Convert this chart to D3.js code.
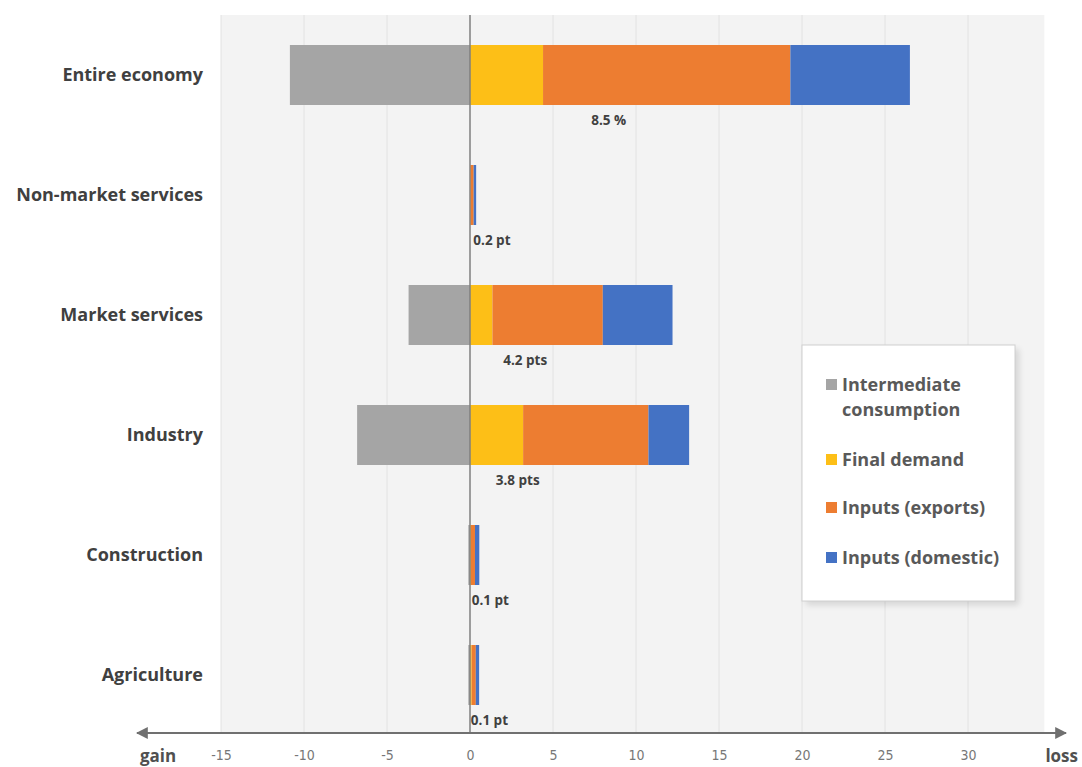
<!DOCTYPE html>
<html lang="en">
<head>
<meta charset="UTF-8">
<title>Gains and losses by sector</title>
<script src="https://d3js.org/d3.v7.min.js"></script>
<style>
  body { margin: 0; background: #fff; }
  .cat { font-family: "Open Sans", "DejaVu Sans", sans-serif; font-weight: 700; font-size: 18px; fill: #404040; }
  .tick text { font-family: "Liberation Sans Narrow", "DejaVu Sans Condensed", sans-serif; font-size: 14px; fill: #777; }
  .note { font-family: "Open Sans", sans-serif; font-weight: 700; font-size: 13.5px; fill: #404040; }
  .end { font-family: "Open Sans", sans-serif; font-weight: 700; font-size: 17px; fill: #505050; }
  .leg { font-family: "Open Sans", sans-serif; font-weight: 700; font-size: 18px; fill: #595959; }
</style>
</head>
<body>
<svg id="chart" width="1082" height="767"></svg>
<script>
// data
var sectors = ["Entire economy", "Non-market services", "Market services", "Industry", "Construction", "Agriculture"];
var seriesNames = ["Intermediate consumption", "Final demand", "Inputs (exports)", "Inputs (domestic)"];
var intermediate = [-10.85, 0, -3.7, -6.8, -0.1, -0.1];
var finalDemand = [4.4, 0.02, 1.35, 3.2, 0.05, 0.1];
var inputsExports = [14.9, 0.2, 6.65, 7.55, 0.25, 0.25];
var inputsDomestic = [7.2, 0.15, 4.2, 2.45, 0.26, 0.2];
var notes = ["8.5 %", "0.2 pt", "4.2 pts", "3.8 pts", "0.1 pt", "0.1 pt"];
var noteAt = [7.3, 0.2, 2.0, 1.55, 0.1, 0.05];
var ticks = [-15, -10, -5, 0, 5, 10, 15, 20, 25, 30];
var colors = ["#a5a5a5", "#fdbf17", "#ed7d31", "#4472c4"];

var svg = d3.select("#chart");

var x = d3.scaleLinear().domain([-15, 30]).range([221, 968]);
var y = d3.scaleBand().domain(sectors).range([15, 735]).paddingInner(0.5).paddingOuter(0.25);

var rows = sectors.map(function (s, i) {
    return { sector: s, s0: intermediate[i], s1: finalDemand[i], s2: inputsExports[i], s3: inputsDomestic[i] };
});
var stack = d3.stack().keys(["s0", "s1", "s2", "s3"]).offset(d3.stackOffsetDiverging);
var layers = stack(rows);

// plot background
svg.append("rect")
    .attr("x", x(-15)).attr("y", 15)
    .attr("width", x(34.6) - x(-15)).attr("height", 733 - 15)
    .attr("fill", "#f3f3f3");

svg.append("g").selectAll("line")
    .data(ticks.filter(function (t) { return t !== 0; }))
    .join("line")
    .attr("x1", function (d) { return x(d); }).attr("x2", function (d) { return x(d); })
    .attr("y1", 15).attr("y2", 733)
    .attr("stroke", "#e2e2e2").attr("stroke-width", 1);

// bars
svg.append("g").selectAll("g")
    .data(layers)
    .join("g")
    .attr("fill", function (d, i) { return colors[i]; })
    .selectAll("rect")
    .data(function (d) { return d; })
    .join("rect")
    .attr("x", function (d) { return x(Math.min(d[0], d[1])); })
    .attr("width", function (d) { return Math.abs(x(d[1]) - x(d[0])); })
    .attr("y", function (d) { return y(d.data.sector); })
    .attr("height", y.bandwidth());

// zero line
svg.append("line")
    .attr("x1", x(0)).attr("x2", x(0))
    .attr("y1", 15).attr("y2", 733)
    .attr("stroke", "#7f7f7f").attr("stroke-width", 1.5);

// category labels
svg.append("g").selectAll("text")
    .data(sectors)
    .join("text")
    .attr("class", "cat")
    .attr("x", 203)
    .attr("y", function (d) { return y(d) + y.bandwidth() / 2; })
    .attr("dy", "0.35em")
    .attr("text-anchor", "end")
    .text(function (d) { return d; });

// notes under bars
svg.append("g").selectAll("text")
    .data(notes)
    .join("text")
    .attr("class", "note")
    .attr("x", function (d, i) { return x(noteAt[i]); })
    .attr("y", function (d, i) { return y(sectors[i]) + y.bandwidth() + 20; })
    .text(function (d) { return d; });

// bottom axis with arrows
var defs = svg.append("defs");
["arrEnd", "arrStart"].forEach(function (id, k) {
    defs.append("marker")
        .attr("id", id)
        .attr("viewBox", "0 0 10 10")
        .attr("refX", k === 0 ? 9 : 1).attr("refY", 5)
        .attr("markerWidth", 6).attr("markerHeight", 6)
        .attr("orient", "auto")
        .append("path")
        .attr("d", k === 0 ? "M0,0L10,5L0,10Z" : "M10,0L0,5L10,10Z")
        .attr("fill", "#707070");
});
svg.append("line")
    .attr("x1", 137).attr("x2", 1066)
    .attr("y1", 733).attr("y2", 733)
    .attr("stroke", "#707070").attr("stroke-width", 2)
    .attr("marker-start", "url(#arrStart)")
    .attr("marker-end", "url(#arrEnd)");

var axis = svg.append("g")
    .attr("transform", "translate(0,746)")
    .call(d3.axisBottom(x).tickValues(ticks).tickSize(0).tickPadding(4)
        .tickFormat(function (d) { return String(d); }));
axis.select(".domain").remove();

svg.append("text").attr("class", "end").attr("x", 140).attr("y", 762).text("gain");
svg.append("text").attr("class", "end").attr("x", 1078).attr("y", 762).attr("text-anchor", "end").text("loss");

// legend
var lg = svg.append("g").attr("transform", "translate(802,345)");
lg.append("rect").attr("x", 4).attr("y", 4).attr("width", 213).attr("height", 256)
    .attr("fill", "#000").attr("opacity", 0.12).style("filter", "blur(3px)");
lg.append("rect").attr("width", 213).attr("height", 256)
    .attr("fill", "#fff").attr("stroke", "#d0d0d0");
var legendLines = [["Intermediate", "consumption"], ["Final demand"], ["Inputs (exports)"], ["Inputs (domestic)"]];
var legendY = [40, 115, 163, 213];
legendLines.forEach(function (lines, i) {
    lg.append("rect")
        .attr("x", 24).attr("y", legendY[i] - 6)
        .attr("width", 11).attr("height", 11)
        .attr("fill", colors[i]);
    var t = lg.append("text").attr("class", "leg").attr("x", 40).attr("y", legendY[i]);
    lines.forEach(function (l, j) {
        t.append("tspan").attr("x", 40).attr("dy", j === 0 ? "0.35em" : "1.35em").text(l);
    });
});
</script>
</body>
</html>
